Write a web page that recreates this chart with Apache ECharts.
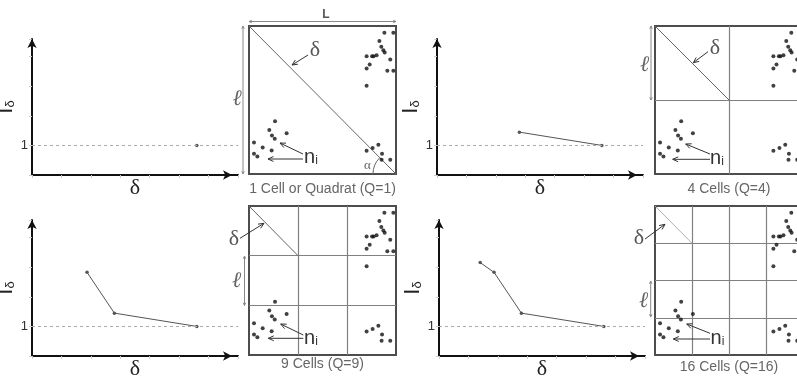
<!DOCTYPE html>
<html>
<head>
<meta charset="utf-8">
<script src="https://cdn.jsdelivr.net/npm/echarts@6/dist/echarts.min.js"></script>
<style>
  html, body { margin: 0; padding: 0; background: #fff; }
  #main { width: 797px; height: 379px; }
</style>
</head>
<body>
<div id="main"></div>
<script>
// quadrat counts, cell diagonal and Morisita index per step
var cellCounts = [1, 4, 9, 16];
var deltaValues = [5.6, 2.8, 1.87, 1.4];
var indexValues = [1.0, 1.45, 2.83, 3.16];
var captions = ['1 Cell or Quadrat (Q=1)', '4 Cells (Q=4)', '9 Cells (Q=9)', '16 Cells (Q=16)'];

// point pattern inside the study square (unit coords, y up)
var dotsTopRight = [
  [0.921, 0.955], [0.982, 0.955], [0.887, 0.899], [0.900, 0.859], [0.914, 0.836],
  [0.923, 0.821], [0.868, 0.803], [0.848, 0.796], [0.837, 0.796], [0.800, 0.796],
  [0.821, 0.740], [0.800, 0.713], [0.961, 0.774], [0.941, 0.697], [0.982, 0.697],
  [0.800, 0.596]
];
var dotsBottomLeft = [
  [0.177, 0.357], [0.138, 0.298], [0.256, 0.276], [0.156, 0.260], [0.175, 0.238],
  [0.034, 0.213], [0.093, 0.179], [0.154, 0.159], [0.034, 0.137], [0.057, 0.119]
];
var dotsBottomRight = [
  [0.800, 0.157], [0.841, 0.175], [0.880, 0.197], [0.905, 0.137], [0.902, 0.096],
  [0.961, 0.096]
];
var allDots = dotsTopRight.concat(dotsBottomLeft, dotsBottomRight);

// layout: line plots [left, top], squares [left, top, width, height]
var plotBoxes = [[32, 39], [437, 39], [32, 220], [439, 220]];
var squareBoxes = [[249, 26, 147, 148], [655, 26, 148, 148], [249, 206, 147, 149], [655, 206, 148, 149]];

// annotation offsets relative to each square's top-left corner
var notes = [
  { delta: [66, 24.5], deltaArrow: [59, 29, 43, 39], ell: [-12, 73], ellArrow: [-6, 0, 148],
    ni: [62, 131], niArrows: [[54, 128, 31, 117], [54, 133, 19, 133]], caption: 163 },
  { delta: [60, 22.3], deltaArrow: [53, 25.7, 38.3, 36.7], ell: [-10.5, 39], ellArrow: [-4, 0, 74],
    ni: [62, 132], niArrows: [[55, 128, 30.7, 118], [55, 133.3, 17.7, 133.3]], caption: 163 },
  { delta: [-15, 33], deltaArrow: [-9, 32.3, 15, 17.3], ell: [-12.3, 75.5], ellArrow: [-4.5, 50, 99.5],
    ni: [62, 132], niArrows: [[54.3, 129, 31.7, 118], [54.3, 132.3, 19.3, 132.3]], caption: 158 },
  { delta: [-16, 32.5], deltaArrow: [-10, 33, 10, 18.3], ell: [-11.5, 95], ellArrow: [-4.3, 75, 111],
    ni: [62.5, 132], niArrows: [[55, 127.3, 31.7, 118], [55, 133, 18.3, 133]], caption: 161 }
];

var grids = [], xAxes = [], yAxes = [], series = [];

plotBoxes.forEach(function (b, k) {
  grids.push({ left: b[0], top: b[1], width: 206, height: 136, show: false, outerBoundsMode: 'none', containLabel: false });
  xAxes.push({
    gridIndex: k, type: 'value', min: 0, max: 7, interval: 1,
    name: 'δ', nameLocation: 'middle', nameGap: 2,
    nameTextStyle: { fontFamily: 'Liberation Serif', fontSize: 22, color: '#222' },
    axisLine: { show: true, symbol: ['none', 'arrow'], symbolSize: [7, 9], symbolOffset: [0, -6],
      lineStyle: { color: '#111', width: 2 } },
    axisTick: { show: true, length: 3, lineStyle: { color: '#ccc' } },
    axisLabel: { show: false },
    splitLine: { show: false }
  });
  yAxes.push({
    gridIndex: k, type: 'value', min: 0, max: 4.6, interval: 1,
    name: '{a|I}{b|δ}', nameLocation: 'middle', nameGap: 8, nameRotate: 90,
    nameTextStyle: {
      rich: {
        a: { fontFamily: 'Liberation Sans', fontSize: 22, color: '#222' },
        b: { fontFamily: 'Liberation Sans', fontSize: 13, color: '#222', verticalAlign: 'bottom' }
      }
    },
    axisLine: { show: true, symbol: ['none', 'arrow'], symbolSize: [7, 9],
      lineStyle: { color: '#111', width: 2 } },
    axisTick: { show: true, length: 3, lineStyle: { color: '#ccc' } },
    axisLabel: { show: true, margin: 4, fontFamily: 'Liberation Sans', fontSize: 13, color: '#333',
      formatter: function (v) { return v === 1 ? '1' : ''; } },
    splitLine: { show: false }
  });
  var pts = [];
  for (var i = 0; i <= k; i++) pts.push([deltaValues[i], indexValues[i]]);
  series.push({
    type: 'line', xAxisIndex: k, yAxisIndex: k, data: pts,
    symbol: 'circle', symbolSize: 3.5, showSymbol: true,
    itemStyle: { color: '#555' }, lineStyle: { color: '#555', width: 1 },
    markLine: {
      silent: true, symbol: 'none', label: { show: false },
      lineStyle: { color: '#aaa', type: [3, 3], width: 1 },
      data: [{ yAxis: 1 }]
    },
    z: 3
  });
});

squareBoxes.forEach(function (b, k) {
  var gi = 4 + k;
  var n = Math.sqrt(cellCounts[k]);
  grids.push({ left: b[0], top: b[1], width: b[2], height: b[3], show: true, outerBoundsMode: 'none', containLabel: false,
    borderColor: '#4d4d4d', borderWidth: 2, backgroundColor: 'transparent' });
  [xAxes, yAxes].forEach(function (list) {
    list.push({
      gridIndex: gi, type: 'value', min: 0, max: 1, interval: 1 / n,
      axisLine: { show: false }, axisTick: { show: false }, axisLabel: { show: false },
      splitLine: { show: n > 1, showMinLine: false, showMaxLine: false,
        lineStyle: { color: '#808080', width: 1.2 } }
    });
  });
  series.push({
    type: 'line', xAxisIndex: gi, yAxisIndex: gi,
    data: [[0, 1], [1 / n, 1 - 1 / n]], symbol: 'none', silent: true,
    lineStyle: { color: k === 3 ? '#b0b0b0' : '#666', width: 1 }
  });
  series.push({
    type: 'scatter', xAxisIndex: gi, yAxisIndex: gi, data: allDots,
    symbolSize: 4, itemStyle: { color: '#111' }, silent: true, z: 4
  });
});

var chart = echarts.init(document.getElementById('main'), null, { renderer: 'canvas' });
chart.setOption({
  animation: false,
  backgroundColor: '#fff',
  grid: grids, xAxis: xAxes, yAxis: yAxes, series: series
});

function arrow(x1, y1, x2, y2, color, head, both) {
  var els = [{ type: 'line', silent: true, shape: { x1: x1, y1: y1, x2: x2, y2: y2 },
    style: { stroke: color, lineWidth: 1 }, z: 10 }];
  function tip(px, py, fx, fy) {
    var a = Math.atan2(py - fy, px - fx), s = 0.42;
    els.push({ type: 'polyline', silent: true, z: 10,
      shape: { points: [[px - head * Math.cos(a - s), py - head * Math.sin(a - s)], [px, py],
        [px - head * Math.cos(a + s), py - head * Math.sin(a + s)]] },
      style: { stroke: color, fill: 'none', lineWidth: 1 } });
  }
  tip(x2, y2, x1, y1);
  if (both) tip(x1, y1, x2, y2);
  return els;
}
function text(x, y, str, style) {
  return { type: 'text', x: x, y: y, silent: true, z: 10,
    style: Object.assign({ text: str, align: 'center', verticalAlign: 'middle' }, style) };
}

var gfx = [];
squareBoxes.forEach(function (b, k) {
  var o = chart.convertToPixel({ gridIndex: 4 + k }, [0, 1]);
  var c = chart.convertToPixel({ gridIndex: 4 + k }, [1, 0]);
  var nt = notes[k];
  var ox = o[0], oy = o[1];
  gfx.push(text(ox + nt.delta[0], oy + nt.delta[1], 'δ',
    { fontFamily: 'Liberation Serif', fontSize: 22, fill: '#555' }));
  gfx = gfx.concat(arrow(ox + nt.deltaArrow[0], oy + nt.deltaArrow[1], ox + nt.deltaArrow[2], oy + nt.deltaArrow[3], '#333', 6));
  gfx.push(text(ox + nt.ell[0], oy + nt.ell[1], 'ℓ',
    { fontFamily: 'Liberation Serif', fontStyle: 'italic', fontSize: 22, fill: '#666' }));
  gfx = gfx.concat(arrow(ox + nt.ellArrow[0], oy + nt.ellArrow[1], ox + nt.ellArrow[0], oy + nt.ellArrow[2], '#888', 3, true));
  gfx.push(text(ox + nt.ni[0], oy + nt.ni[1], '{n|n}{i|i}', {
    rich: { n: { fontFamily: 'Liberation Sans', fontSize: 20, fill: '#333' },
            i: { fontFamily: 'Liberation Sans', fontSize: 12, fill: '#333', verticalAlign: 'bottom', padding: [6, 0, 0, 0] } } }));
  nt.niArrows.forEach(function (a) {
    gfx = gfx.concat(arrow(ox + a[0], oy + a[1], ox + a[2], oy + a[3], '#333', 6));
  });
  gfx.push(text(ox + b[2] / 2, oy + nt.caption, captions[k],
    { fontFamily: 'Liberation Sans', fontSize: 14, fill: '#666' }));
  if (k === 0) {
    gfx.push(text(ox + 77, oy - 11.5, 'L', { fontFamily: 'Liberation Sans', fontSize: 12, fontWeight: 'bold', fill: '#555' }));
    gfx = gfx.concat(arrow(ox, oy - 4.5, c[0], oy - 4.5, '#888', 3, true));
    gfx.push(text(ox + 118.5, oy + 139.7, 'α', { fontFamily: 'Liberation Serif', fontSize: 13, fill: '#666' }));
    gfx.push({ type: 'arc', silent: true, z: 10,
      shape: { cx: c[0], cy: c[1], r: 23, startAngle: Math.PI, endAngle: Math.PI * 1.25, clockwise: true },
      style: { stroke: '#666', fill: 'none', lineWidth: 1 } });
  }
});
chart.setOption({ graphic: { elements: gfx } });
</script>
</body>
</html>
